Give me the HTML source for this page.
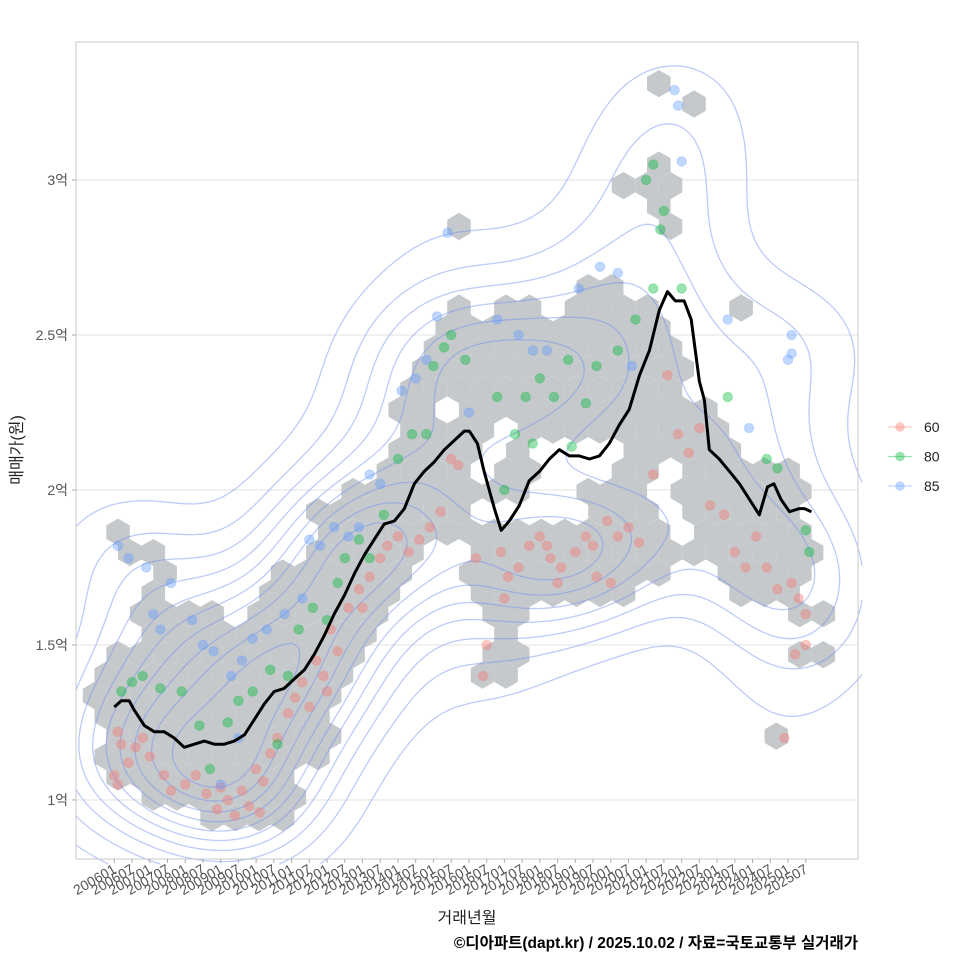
<!DOCTYPE html>
<html><head><meta charset="utf-8">
<style>
body{margin:0;background:#fff;}
svg text{font-family:"Liberation Sans","Noto Sans CJK KR",sans-serif;}
</style></head>
<body>
<svg id="chart" width="960" height="960" viewBox="0 0 960 960" xmlns="http://www.w3.org/2000/svg">
<rect x="0" y="0" width="960" height="960" fill="#fff"/>
<g id="grid"></g>
<g id="hexes"></g>
<g id="contours"></g>
<g id="points"></g>
<g id="ma"></g>
<rect x="76" y="42" width="782" height="817" fill="none" stroke="#c8c8c8" stroke-width="1"/>
<g id="yaxis"></g>
<g id="xaxis"></g>
<text transform="translate(22,450) rotate(-90)" text-anchor="middle" font-size="16" fill="#222">매매가(원)</text>
<text x="467" y="923" text-anchor="middle" font-size="16" fill="#222">거래년월</text>
<text x="858" y="948" text-anchor="end" font-size="15.5" font-weight="bold" fill="#000">©디아파트(dapt.kr) / 2025.10.02 / 자료=국토교통부 실거래가</text>
<g id="legend"></g>
</svg>
<script>
const yTicks=[1,1.5,2,2.5,3];
const yTickLabels=["1억","1.5억","2억","2.5억","3억"];
const xTickLabels=[];
for(let y=2006;y<=2025;y++){xTickLabels.push(y+"01");xTickLabels.push(y+"07");}
const maYears=[2006.0,2006.2,2006.42,2006.56,2006.85,2007.13,2007.41,2007.69,2007.97,2008.26,2008.54,2008.82,2009.1,2009.38,2009.67,2009.95,2010.23,2010.51,2010.79,2011.07,2011.36,2011.64,2011.92,2012.2,2012.49,2012.77,2013.05,2013.33,2013.61,2013.9,2014.18,2014.46,2014.74,2015.02,2015.31,2015.59,2015.87,2016.01,2016.24,2016.43,2016.72,2016.91,2017.14,2017.42,2017.7,2017.99,2018.27,2018.55,2018.83,2019.11,2019.4,2019.68,2019.96,2020.24,2020.52,2020.81,2021.09,2021.37,2021.6,2021.82,2022.07,2022.27,2022.5,2022.64,2022.78,2023.06,2023.35,2023.63,2023.91,2024.19,2024.42,2024.6,2024.8,2025.04,2025.32,2025.46,2025.66];
const maValues=[1.30,1.32,1.32,1.29,1.24,1.22,1.22,1.20,1.17,1.18,1.19,1.18,1.18,1.19,1.21,1.26,1.31,1.35,1.36,1.39,1.42,1.47,1.53,1.60,1.66,1.73,1.79,1.84,1.89,1.90,1.94,2.02,2.06,2.09,2.13,2.16,2.19,2.19,2.15,2.06,1.94,1.87,1.90,1.95,2.03,2.06,2.10,2.13,2.11,2.11,2.10,2.11,2.15,2.21,2.26,2.37,2.45,2.58,2.64,2.61,2.61,2.55,2.35,2.29,2.13,2.10,2.06,2.02,1.97,1.92,2.01,2.02,1.97,1.93,1.94,1.94,1.93];
const pts60="2006.1 1.22,2006.2 1.18,2006.4 1.12,2006.6 1.17,2006.8 1.20,2007.0 1.14,2006.0 1.08,2006.1 1.05,2007.4 1.08,2007.6 1.03,2008.0 1.05,2008.3 1.08,2008.6 1.02,2008.9 0.97,2009.2 1.00,2009.4 0.95,2009.6 1.03,2009.8 0.98,2010.0 1.10,2010.2 1.06,2010.4 1.15,2010.6 1.20,2010.9 1.28,2011.1 1.33,2011.3 1.38,2011.5 1.30,2011.7 1.45,2011.9 1.40,2012.1 1.55,2012.3 1.48,2012.6 1.62,2012.9 1.68,2013.2 1.72,2013.5 1.78,2013.7 1.82,2014.0 1.85,2014.3 1.80,2014.6 1.84,2014.9 1.88,2015.2 1.93,2015.5 2.10,2015.7 2.08,2016.2 1.78,2016.5 1.50,2016.4 1.40,2016.9 1.80,2017.1 1.72,2017.4 1.75,2017.7 1.82,2018.0 1.85,2018.3 1.78,2018.6 1.75,2019.0 1.80,2019.3 1.85,2019.6 1.72,2019.9 1.90,2020.2 1.85,2020.5 1.88,2020.8 1.83,2021.2 2.05,2021.6 2.37,2021.9 2.18,2022.2 2.12,2022.5 2.20,2022.8 1.95,2023.2 1.92,2023.5 1.80,2023.8 1.75,2024.1 1.85,2024.4 1.75,2024.7 1.68,2025.1 1.70,2025.3 1.65,2025.5 1.60,2025.2 1.47,2025.5 1.50,2024.9 1.20,2017.0 1.65,2018.5 1.70,2020.0 1.70,2009.0 1.04,2010.1 0.96,2012.0 1.35,2013.0 1.62,2018.2 1.82,2019.5 1.82";
const pts80="2006.2 1.35,2006.5 1.38,2006.8 1.40,2007.3 1.36,2007.9 1.35,2008.4 1.24,2008.7 1.10,2009.2 1.25,2009.5 1.32,2009.9 1.35,2010.4 1.42,2010.6 1.18,2010.9 1.40,2011.2 1.55,2011.6 1.62,2012.0 1.58,2012.3 1.70,2012.5 1.78,2012.9 1.84,2013.2 1.78,2013.6 1.92,2014.0 2.10,2014.4 2.18,2014.8 2.18,2015.0 2.40,2015.3 2.46,2015.5 2.50,2015.9 2.42,2016.8 2.30,2017.3 2.18,2017.6 2.30,2018.0 2.36,2018.4 2.30,2018.8 2.42,2019.3 2.28,2019.6 2.40,2020.2 2.45,2020.7 2.55,2021.2 2.65,2021.4 2.84,2021.5 2.90,2021.0 3.00,2021.2 3.05,2022.0 2.65,2023.3 2.30,2024.4 2.10,2024.7 2.07,2025.5 1.87,2025.6 1.80,2017.0 2.00,2017.8 2.15,2018.9 2.14";
const pts85="2006.1 1.82,2006.4 1.78,2006.9 1.75,2007.1 1.60,2007.3 1.55,2007.6 1.70,2008.2 1.58,2008.5 1.50,2008.8 1.48,2009.3 1.40,2009.6 1.45,2009.9 1.52,2010.3 1.55,2010.8 1.60,2011.3 1.65,2011.5 1.84,2011.8 1.82,2012.2 1.88,2012.6 1.85,2012.9 1.88,2013.2 2.05,2013.5 2.02,2014.1 2.32,2014.5 2.36,2014.8 2.42,2015.1 2.56,2015.4 2.83,2016.0 2.25,2016.8 2.55,2017.4 2.50,2017.8 2.45,2018.2 2.45,2019.1 2.65,2019.7 2.72,2020.2 2.70,2020.6 2.40,2021.9 3.24,2021.8 3.29,2022.0 3.06,2023.3 2.55,2023.9 2.20,2025.1 2.50,2025.1 2.44,2025.0 2.42,2009.0 1.05,2009.5 1.20";
// hexbin coverage: row value and year spans
const hexRowValues=[3.311,3.245,3.048,2.982,2.916,2.850,2.653,2.587,2.522,2.456,2.390,2.324,2.258,2.193,2.127,2.061,1.995,1.930,1.864,1.798,1.732,1.666,1.601,1.535,1.469,1.403,1.337,1.272,1.206,1.140,1.074,1.009,0.943];
const hexRowSpans=[
[[2021.68,2021.68]],
[[2022.02,2022.02]],
[[2021.03,2021.03]],
[[2020.69,2021.37]],
[[2021.37,2021.68]],
[[2015.42,2015.42],[2021.37,2021.37]],
[[2019.4,2020.24]],
[[2015.39,2015.39],[2016.72,2017.7],[2019.06,2021.09],[2023.35,2023.35]],
[[2015.08,2016.04],[2016.72,2017.99],[2018.69,2021.37]],
[[2014.74,2016.41],[2017.05,2017.7],[2018.41,2021.37]],
[[2014.4,2016.41],[2017.7,2021.09],[2022.22,2022.22]],
[[2014.07,2015.39],[2016.07,2016.07],[2016.72,2021.37]],
[[2014.07,2014.74],[2016.07,2016.72],[2017.42,2021.09],[2022.22,2022.78]],
[[2014.07,2015.39],[2016.07,2016.07],[2017.42,2017.99],[2018.69,2019.68],[2020.02,2021.37],[2022.22,2023.06]],
[[2013.75,2016.01],[2017.05,2017.7],[2020.69,2021.37],[2022.02,2023.63]],
[[2013.42,2016.01],[2016.72,2017.42],[2020.69,2021.03],[2022.02,2025.04]],
[[2012.77,2016.01],[2016.72,2017.42],[2019.68,2020.81],[2022.02,2025.6]],
[[2012.06,2015.45],[2019.4,2020.81],[2022.67,2024.9]],
[[2005.92,2005.92],[2011.78,2015.17],[2016.15,2021.09],[2022.67,2025.32]],
[[2006.2,2006.9],[2011.5,2014.6],[2016.15,2021.37],[2022.5,2025.88]],
[[2007.2,2007.2],[2010.94,2014.04],[2016.15,2021.09],[2023.06,2025.6]],
[[2006.9,2007.27],[2010.09,2013.47],[2016.15,2020.24],[2023.63,2025.32]],
[[2006.9,2008.96],[2010.09,2013.47],[2016.43,2017.7],[2025.32,2026.16]],
[[2007.21,2007.21],[2007.83,2013.19],[2017.05,2017.05]],
[[2005.92,2012.77],[2016.58,2017.42],[2025.04,2025.88]],
[[2005.72,2012.63],[2016.29,2016.86]],
[[2005.58,2012.06]],
[[2005.58,2012.06]],
[[2005.92,2011.78],[2024.67,2024.67]],
[[2005.92,2011.5]],
[[2005.92,2010.94]],
[[2006.99,2010.94]],
[[2008.68,2010.94]]];
const hexColStep=0.663, hexColOrigin=2024.67, hexRowStep=0.0658, hexRowOrigin=1.206;

const NS="http://www.w3.org/2000/svg";
const X=yr=>114.3+(yr-2006)*35.46;
const Y=v=>800-(v-1)*310;
function mk(tag,attrs,parent){const e=document.createElementNS(NS,tag);for(const k in attrs)e.setAttribute(k,attrs[k]);parent.appendChild(e);return e;}
const PL=76,PR=858,PT=42,PB=859;

const grid=document.getElementById('grid'),yax=document.getElementById('yaxis');
yTicks.forEach((t,i)=>{
  const gl=mk('line',{x1:PL,x2:PR,y1:Y(t),y2:Y(t),stroke:'#e3e3e3','stroke-width':1},grid);
  
  
  const tk=mk('line',{x1:PL-4,x2:PL,y1:Y(t),y2:Y(t),stroke:'#aaa'},yax);
  
  
  const tx=mk('text',{x:PL-8,y:Y(t)+5,'text-anchor':'end','font-size':14,fill:'#555'},yax);
  
  
  tx.textContent=yTickLabels[i];
});
const xax=document.getElementById('xaxis');
xTickLabels.forEach((lab,i)=>{
  const yr=parseInt(lab.slice(0,4))+(parseInt(lab.slice(4))-1)/12;
  const x=X(yr);
  const tk=mk('line',{x1:x,x2:x,y1:PB,y2:PB+4,stroke:'#aaa'},xax);
  
  
  const tx=mk('text',{transform:`translate(${x+3},${PB+13}) rotate(-30)`,'text-anchor':'end','font-size':14,fill:'#555'},xax);
  
  
  tx.textContent=lab;
});
const hexG=document.getElementById('hexes');
const R=13.6;
hexRowValues.forEach((v,ri)=>{
  const k=Math.round((v-hexRowOrigin)/hexRowStep);
  const off=(Math.abs(k)%2===1)?hexColStep/2:0;
  const seen=new Set();
  (hexRowSpans[ri]||[]).forEach(([a,b])=>{
    const i0=Math.ceil((a-0.33-hexColOrigin-off)/hexColStep), i1=Math.floor((b+0.33-hexColOrigin-off)/hexColStep);
    for(let i=i0;i<=i1;i++){
      if(seen.has(i))continue;seen.add(i);
      const cx=X(hexColOrigin+off+i*hexColStep), cy=Y(v);
      let d='';
      for(let j=0;j<6;j++){const an=Math.PI/180*(60*j-90);d+=(j?'L':'M')+(cx+R*Math.cos(an)).toFixed(1)+' '+(cy+R*Math.sin(an)).toFixed(1);}
      const h=mk('path',{d:d+'Z',fill:'#c5c9cc'},hexG);
      
      
    }
  });
});
const parse=s=>s.split(',').map(p=>p.trim().split(' ').map(Number));
const series=[[parse(pts60),'#F8766D','60'],[parse(pts80),'#00BA38','80'],[parse(pts85),'#619CFF','85']];
const ptG=document.getElementById('points');
const all=[];
series.forEach(([arr,col])=>{arr.forEach(([yr,v])=>{
  all.push([X(yr),Y(v)]);
  const c=mk('circle',{cx:X(yr),cy:Y(v),r:4.8,fill:col,'fill-opacity':0.4,stroke:col,'stroke-opacity':0.25},ptG);
  
  
});});
(function(){
  const cs=6,hx=60,hy=50;
  const nx=Math.ceil((PR-PL)/cs)+1, ny=Math.ceil((PB-PT)/cs)+1;
  const D=[];let mx=0;
  for(let j=0;j<ny;j++){D.push([]);for(let i=0;i<nx;i++){
    const px=PL+i*cs,py=PT+j*cs;let s=0;
    for(const [x,y] of all){const dx=(px-x)/hx,dy=(py-y)/hy;const e=dx*dx+dy*dy;if(e<18)s+=Math.exp(-e/2);}
    D[j].push(s);if(s>mx)mx=s;}}
  const cg=document.getElementById('contours');
  for(let L=1;L<=10;L++){
    const lv=mx*L/11;let d='';
    for(let j=0;j<ny-1;j++)for(let i=0;i<nx-1;i++){
      const a=D[j][i],b=D[j][i+1],c=D[j+1][i+1],e=D[j+1][i];
      const x0=PL+i*cs,y0=PT+j*cs;
      const pts=[];
      const ed=(v1,v2,p1,p2)=>{if((v1>=lv)!==(v2>=lv)){const t=(lv-v1)/(v2-v1);pts.push([p1[0]+(p2[0]-p1[0])*t,p1[1]+(p2[1]-p1[1])*t]);}};
      ed(a,b,[x0,y0],[x0+cs,y0]);ed(b,c,[x0+cs,y0],[x0+cs,y0+cs]);ed(c,e,[x0+cs,y0+cs],[x0,y0+cs]);ed(e,a,[x0,y0+cs],[x0,y0]);
      for(let k=0;k+1<pts.length;k+=2)d+=`M${pts[k][0].toFixed(1)} ${pts[k][1].toFixed(1)}L${pts[k+1][0].toFixed(1)} ${pts[k+1][1].toFixed(1)}`;
    }
    const p=mk('path',{d:d,fill:'none',stroke:'#6f8cf0','stroke-opacity':0.45,'stroke-width':1.3},cg);
    
    
  }
})();
const maG=document.getElementById('ma');
const ml=mk('path',{d:maYears.map((yr,i)=>(i?'L':'M')+X(yr).toFixed(1)+' '+Y(maValues[i]).toFixed(1)).join(''),fill:'none',stroke:'#000','stroke-width':3,'stroke-linejoin':'round'},maG);


const lg=document.getElementById('legend');
series.forEach(([arr,col,lab],i)=>{
  const y=427+i*29.5;
  const g=mk('g',{},lg);
  
  
  mk('line',{x1:888,x2:912,y1:y,y2:y,stroke:col,'stroke-opacity':0.4,'stroke-width':1.2},g);
  mk('circle',{cx:900,cy:y,r:4.8,fill:col,'fill-opacity':0.4},g);
  const t=mk('text',{x:924,y:y+5,'font-size':14,fill:'#222'},g);
  t.textContent=lab;
});
</script>
</body></html>
